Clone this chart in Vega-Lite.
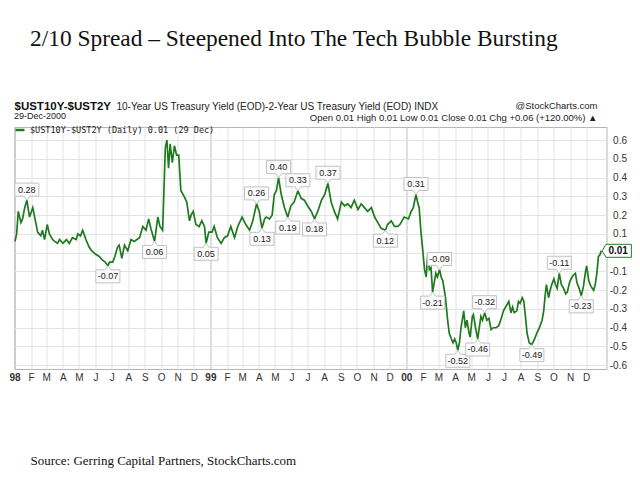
{
  "$schema": "https://vega.github.io/schema/vega-lite/v6.json",
  "width": 592,
  "height": 242,
  "autosize": {"type": "none"},
  "padding": {"left": 14.5, "top": 127, "right": 33.5, "bottom": 111},
  "background": "white",
  "title": {
    "text": "2/10 Spread – Steepened Into The Tech Bubble Bursting",
    "anchor": "start",
    "frame": "group",
    "dx": 15.5,
    "offset": 31,
    "font": "Liberation Serif",
    "fontSize": 23.4,
    "fontWeight": "normal",
    "color": "#111111",
    "baseline": "alphabetic"
  },
  "datasets": {
    "series": [
      {"date": "1998-01-02", "v": 0.06}, {"date": "1998-01-05", "v": 0.10}, {"date": "1998-01-08", "v": 0.22},
      {"date": "1998-01-13", "v": 0.16}, {"date": "1998-01-16", "v": 0.18}, {"date": "1998-01-20", "v": 0.24},
      {"date": "1998-01-24", "v": 0.28}, {"date": "1998-01-29", "v": 0.19}, {"date": "1998-02-04", "v": 0.24},
      {"date": "1998-02-09", "v": 0.17}, {"date": "1998-02-13", "v": 0.11}, {"date": "1998-02-19", "v": 0.09},
      {"date": "1998-02-22", "v": 0.12}, {"date": "1998-02-26", "v": 0.07}, {"date": "1998-03-03", "v": 0.15},
      {"date": "1998-03-07", "v": 0.10}, {"date": "1998-03-13", "v": 0.07}, {"date": "1998-03-17", "v": 0.06},
      {"date": "1998-03-22", "v": 0.05}, {"date": "1998-03-26", "v": 0.07}, {"date": "1998-04-01", "v": 0.05},
      {"date": "1998-04-08", "v": 0.07}, {"date": "1998-04-13", "v": 0.05}, {"date": "1998-04-19", "v": 0.08},
      {"date": "1998-04-26", "v": 0.07}, {"date": "1998-04-29", "v": 0.10}, {"date": "1998-05-04", "v": 0.09},
      {"date": "1998-05-08", "v": 0.12}, {"date": "1998-05-14", "v": 0.07}, {"date": "1998-05-20", "v": 0.03},
      {"date": "1998-05-25", "v": 0.01}, {"date": "1998-06-02", "v": -0.01}, {"date": "1998-06-08", "v": -0.02},
      {"date": "1998-06-14", "v": -0.04}, {"date": "1998-06-19", "v": -0.05}, {"date": "1998-06-24", "v": -0.07},
      {"date": "1998-06-27", "v": -0.05}, {"date": "1998-07-03", "v": -0.05}, {"date": "1998-07-07", "v": -0.02},
      {"date": "1998-07-12", "v": 0.03}, {"date": "1998-07-15", "v": 0.04}, {"date": "1998-07-20", "v": -0.03},
      {"date": "1998-07-25", "v": 0.04}, {"date": "1998-07-31", "v": 0.01}, {"date": "1998-08-06", "v": 0.07},
      {"date": "1998-08-12", "v": 0.06}, {"date": "1998-08-17", "v": 0.07}, {"date": "1998-08-22", "v": 0.08},
      {"date": "1998-08-28", "v": 0.14}, {"date": "1998-09-03", "v": 0.12}, {"date": "1998-09-08", "v": 0.18},
      {"date": "1998-09-12", "v": 0.13}, {"date": "1998-09-17", "v": 0.08}, {"date": "1998-09-19", "v": 0.06},
      {"date": "1998-09-25", "v": 0.19}, {"date": "1998-09-29", "v": 0.14}, {"date": "1998-10-04", "v": 0.12},
      {"date": "1998-10-09", "v": 0.56}, {"date": "1998-10-12", "v": 0.60}, {"date": "1998-10-15", "v": 0.45},
      {"date": "1998-10-18", "v": 0.58}, {"date": "1998-10-22", "v": 0.48}, {"date": "1998-10-26", "v": 0.57},
      {"date": "1998-10-30", "v": 0.52}, {"date": "1998-11-03", "v": 0.52}, {"date": "1998-11-07", "v": 0.33},
      {"date": "1998-11-13", "v": 0.30}, {"date": "1998-11-18", "v": 0.27}, {"date": "1998-11-23", "v": 0.17},
      {"date": "1998-11-26", "v": 0.20}, {"date": "1998-11-30", "v": 0.22}, {"date": "1998-12-05", "v": 0.15},
      {"date": "1998-12-11", "v": 0.14}, {"date": "1998-12-16", "v": 0.17}, {"date": "1998-12-21", "v": 0.14},
      {"date": "1998-12-24", "v": 0.05}, {"date": "1998-12-29", "v": 0.11}, {"date": "1999-01-04", "v": 0.11},
      {"date": "1999-01-08", "v": 0.14}, {"date": "1999-01-14", "v": 0.08}, {"date": "1999-01-21", "v": 0.05},
      {"date": "1999-01-27", "v": 0.08}, {"date": "1999-02-02", "v": 0.09}, {"date": "1999-02-08", "v": 0.14},
      {"date": "1999-02-15", "v": 0.08}, {"date": "1999-02-21", "v": 0.14}, {"date": "1999-03-01", "v": 0.19},
      {"date": "1999-03-08", "v": 0.15}, {"date": "1999-03-15", "v": 0.12}, {"date": "1999-03-21", "v": 0.17},
      {"date": "1999-03-28", "v": 0.26}, {"date": "1999-04-02", "v": 0.22}, {"date": "1999-04-07", "v": 0.13},
      {"date": "1999-04-12", "v": 0.18}, {"date": "1999-04-15", "v": 0.19}, {"date": "1999-04-21", "v": 0.18},
      {"date": "1999-04-26", "v": 0.20}, {"date": "1999-04-30", "v": 0.31}, {"date": "1999-05-04", "v": 0.33},
      {"date": "1999-05-08", "v": 0.40}, {"date": "1999-05-13", "v": 0.31}, {"date": "1999-05-19", "v": 0.24},
      {"date": "1999-05-25", "v": 0.19}, {"date": "1999-05-31", "v": 0.25}, {"date": "1999-06-06", "v": 0.27},
      {"date": "1999-06-13", "v": 0.33}, {"date": "1999-06-19", "v": 0.29}, {"date": "1999-06-25", "v": 0.28},
      {"date": "1999-07-01", "v": 0.25}, {"date": "1999-07-08", "v": 0.22}, {"date": "1999-07-14", "v": 0.18},
      {"date": "1999-07-20", "v": 0.22}, {"date": "1999-07-27", "v": 0.28}, {"date": "1999-08-02", "v": 0.31},
      {"date": "1999-08-08", "v": 0.37}, {"date": "1999-08-14", "v": 0.27}, {"date": "1999-08-20", "v": 0.22},
      {"date": "1999-08-26", "v": 0.18}, {"date": "1999-09-02", "v": 0.27}, {"date": "1999-09-08", "v": 0.25},
      {"date": "1999-09-14", "v": 0.26}, {"date": "1999-09-20", "v": 0.24}, {"date": "1999-09-26", "v": 0.28},
      {"date": "1999-10-03", "v": 0.23}, {"date": "1999-10-09", "v": 0.26}, {"date": "1999-10-15", "v": 0.24},
      {"date": "1999-10-21", "v": 0.22}, {"date": "1999-10-28", "v": 0.24}, {"date": "1999-11-03", "v": 0.19},
      {"date": "1999-11-09", "v": 0.16}, {"date": "1999-11-15", "v": 0.13}, {"date": "1999-11-23", "v": 0.12},
      {"date": "1999-11-27", "v": 0.15}, {"date": "1999-12-04", "v": 0.17}, {"date": "1999-12-10", "v": 0.14},
      {"date": "1999-12-16", "v": 0.14}, {"date": "1999-12-20", "v": 0.15}, {"date": "1999-12-24", "v": 0.17},
      {"date": "1999-12-28", "v": 0.19}, {"date": "2000-01-05", "v": 0.18}, {"date": "2000-01-10", "v": 0.22},
      {"date": "2000-01-14", "v": 0.24}, {"date": "2000-01-19", "v": 0.31}, {"date": "2000-01-22", "v": 0.27},
      {"date": "2000-01-25", "v": 0.24}, {"date": "2000-01-28", "v": 0.12}, {"date": "2000-02-01", "v": 0.00},
      {"date": "2000-02-04", "v": -0.09}, {"date": "2000-02-07", "v": -0.13}, {"date": "2000-02-10", "v": -0.01},
      {"date": "2000-02-13", "v": -0.09}, {"date": "2000-02-16", "v": -0.08}, {"date": "2000-02-19", "v": -0.21},
      {"date": "2000-02-22", "v": -0.16}, {"date": "2000-02-25", "v": -0.11}, {"date": "2000-02-28", "v": -0.13},
      {"date": "2000-03-03", "v": -0.09}, {"date": "2000-03-06", "v": -0.13}, {"date": "2000-03-09", "v": -0.15},
      {"date": "2000-03-14", "v": -0.24}, {"date": "2000-03-18", "v": -0.36}, {"date": "2000-03-21", "v": -0.43},
      {"date": "2000-03-25", "v": -0.46}, {"date": "2000-03-28", "v": -0.48}, {"date": "2000-03-31", "v": -0.46},
      {"date": "2000-04-03", "v": -0.48}, {"date": "2000-04-06", "v": -0.52}, {"date": "2000-04-09", "v": -0.48},
      {"date": "2000-04-12", "v": -0.40}, {"date": "2000-04-17", "v": -0.31}, {"date": "2000-04-20", "v": -0.40},
      {"date": "2000-04-23", "v": -0.36}, {"date": "2000-04-27", "v": -0.43}, {"date": "2000-04-29", "v": -0.45},
      {"date": "2000-05-03", "v": -0.34}, {"date": "2000-05-05", "v": -0.33}, {"date": "2000-05-09", "v": -0.40},
      {"date": "2000-05-13", "v": -0.46}, {"date": "2000-05-16", "v": -0.40}, {"date": "2000-05-19", "v": -0.34},
      {"date": "2000-05-22", "v": -0.36}, {"date": "2000-05-26", "v": -0.32}, {"date": "2000-05-30", "v": -0.36},
      {"date": "2000-06-03", "v": -0.35}, {"date": "2000-06-07", "v": -0.41}, {"date": "2000-06-11", "v": -0.40},
      {"date": "2000-06-16", "v": -0.40}, {"date": "2000-06-21", "v": -0.39}, {"date": "2000-06-26", "v": -0.35},
      {"date": "2000-06-30", "v": -0.31}, {"date": "2000-07-06", "v": -0.28}, {"date": "2000-07-10", "v": -0.26},
      {"date": "2000-07-14", "v": -0.32}, {"date": "2000-07-17", "v": -0.29}, {"date": "2000-07-20", "v": -0.32},
      {"date": "2000-07-25", "v": -0.31}, {"date": "2000-07-28", "v": -0.26}, {"date": "2000-07-31", "v": -0.27},
      {"date": "2000-08-04", "v": -0.24}, {"date": "2000-08-07", "v": -0.26}, {"date": "2000-08-10", "v": -0.34},
      {"date": "2000-08-13", "v": -0.43}, {"date": "2000-08-17", "v": -0.48}, {"date": "2000-08-22", "v": -0.49},
      {"date": "2000-08-27", "v": -0.46}, {"date": "2000-08-31", "v": -0.43}, {"date": "2000-09-05", "v": -0.40},
      {"date": "2000-09-10", "v": -0.36}, {"date": "2000-09-13", "v": -0.31}, {"date": "2000-09-16", "v": -0.22},
      {"date": "2000-09-18", "v": -0.17}, {"date": "2000-09-22", "v": -0.24}, {"date": "2000-09-25", "v": -0.20},
      {"date": "2000-09-28", "v": -0.17}, {"date": "2000-10-02", "v": -0.14}, {"date": "2000-10-05", "v": -0.17},
      {"date": "2000-10-08", "v": -0.19}, {"date": "2000-10-12", "v": -0.11}, {"date": "2000-10-16", "v": -0.17},
      {"date": "2000-10-20", "v": -0.19}, {"date": "2000-10-24", "v": -0.22}, {"date": "2000-10-27", "v": -0.21},
      {"date": "2000-10-31", "v": -0.16}, {"date": "2000-11-03", "v": -0.14}, {"date": "2000-11-07", "v": -0.12},
      {"date": "2000-11-11", "v": -0.11}, {"date": "2000-11-14", "v": -0.16}, {"date": "2000-11-18", "v": -0.19},
      {"date": "2000-11-22", "v": -0.23}, {"date": "2000-11-26", "v": -0.18}, {"date": "2000-11-30", "v": -0.10},
      {"date": "2000-12-02", "v": -0.07}, {"date": "2000-12-06", "v": -0.15}, {"date": "2000-12-10", "v": -0.18},
      {"date": "2000-12-15", "v": -0.20}, {"date": "2000-12-18", "v": -0.17}, {"date": "2000-12-21", "v": -0.11},
      {"date": "2000-12-24", "v": -0.02}, {"date": "2000-12-27", "v": -0.01}, {"date": "2000-12-29", "v": 0.01}
    ],
    "labels": [
      {"date": "1998-01-24", "v": 0.28, "label": "0.28", "pos": "above"},
      {"date": "1998-06-24", "v": -0.07, "label": "-0.07", "pos": "below"},
      {"date": "1998-09-19", "v": 0.06, "label": "0.06", "pos": "below"},
      {"date": "1998-12-24", "v": 0.05, "label": "0.05", "pos": "below"},
      {"date": "1999-03-28", "v": 0.26, "label": "0.26", "pos": "above"},
      {"date": "1999-04-07", "v": 0.13, "label": "0.13", "pos": "below"},
      {"date": "1999-05-08", "v": 0.40, "label": "0.40", "pos": "above"},
      {"date": "1999-05-25", "v": 0.19, "label": "0.19", "pos": "below"},
      {"date": "1999-06-13", "v": 0.33, "label": "0.33", "pos": "above"},
      {"date": "1999-07-14", "v": 0.18, "label": "0.18", "pos": "below"},
      {"date": "1999-08-08", "v": 0.37, "label": "0.37", "pos": "above"},
      {"date": "1999-11-23", "v": 0.12, "label": "0.12", "pos": "below"},
      {"date": "2000-01-19", "v": 0.31, "label": "0.31", "pos": "above"},
      {"date": "2000-03-03", "v": -0.09, "label": "-0.09", "pos": "above"},
      {"date": "2000-02-19", "v": -0.21, "label": "-0.21", "pos": "below"},
      {"date": "2000-04-06", "v": -0.52, "label": "-0.52", "pos": "below"},
      {"date": "2000-05-26", "v": -0.32, "label": "-0.32", "pos": "above"},
      {"date": "2000-05-13", "v": -0.46, "label": "-0.46", "pos": "below"},
      {"date": "2000-08-22", "v": -0.49, "label": "-0.49", "pos": "below"},
      {"date": "2000-10-12", "v": -0.11, "label": "-0.11", "pos": "above"},
      {"date": "2000-11-22", "v": -0.23, "label": "-0.23", "pos": "below"}
    ],
    "last": [
      {"date": "2000-12-29", "v": 0.01, "label": "0.01"}
    ]
  },
  "resolve": {"axis": {"x": "independent", "y": "independent"}},
  "layer": [
    {
      "data": {"name": "series"},
      "mark": {"type": "line", "strokeWidth": 1.7},
      "encoding": {
        "x": {
          "field": "date", "type": "temporal",
          "scale": {"domain": [{"year": 1998, "month": 1, "date": 1}, {"year": 2001, "month": 1, "date": 8}]},
          "axis": {
            "orient": "bottom",
            "tickCount": {"interval": "month", "step": 1},
            "labelExpr": "year(datum.value) > 2000 ? '' : (month(datum.value) == 0 ? timeFormat(datum.value, '%y') : slice(timeFormat(datum.value, '%b'), 0, 1))",
            "labelFontWeight": {"condition": {"test": "month(datum.value) == 0", "value": "bold"}, "value": "normal"},
            "labelFont": "Liberation Sans",
            "labelFontSize": 10,
            "labelColor": "#333333",
            "labelPadding": 3,
            "labelFlush": false,
            "labelOverlap": false,
            "ticks": false,
            "domain": false,
            "grid": true,
            "gridColor": {"condition": {"test": "month(datum.value) == 0", "value": "#bdbdbd"}, "value": "#e3e3e3"},
            "gridOpacity": {"condition": {"test": "year(datum.value) > 2000", "value": 0}, "value": 1},
            "title": "Source: Gerring Capital Partners, StockCharts.com",
            "titleFont": "Liberation Serif",
            "titleFontSize": 13,
            "titleFontWeight": "normal",
            "titleColor": "#111111",
            "titleAnchor": "start",
            "titleAlign": "left",
            "titleBaseline": "alphabetic",
            "titleX": 15.5,
            "titleY": 95
          }
        },
        "y": {
          "field": "v", "type": "quantitative",
          "scale": {"domain": [-0.62, 0.67], "nice": false, "zero": false},
          "axis": {
            "orient": "right",
            "values": [-0.6, -0.5, -0.4, -0.3, -0.2, -0.1, 0, 0.1, 0.2, 0.3, 0.4, 0.5, 0.6],
            "labelExpr": "datum.value == 0 ? '' : replace(format(datum.value, '.1f'), '−', '-')",
            "labelAlign": "right",
            "labelBaseline": "middle",
            "labelPadding": 20,
            "labelFont": "Liberation Sans",
            "labelFontSize": 10,
            "labelColor": "#333333",
            "ticks": false,
            "domain": false,
            "grid": true,
            "gridColor": "#e3e3e3",
            "title": ["@StockCharts.com", "Open 0.01 High 0.01 Low 0.01 Close 0.01 Chg +0.06 (+120.00%) ▲"],
            "titleAngle": 0,
            "titleAlign": "right",
            "titleBaseline": "alphabetic",
            "titleX": -9.5,
            "titleY": -19,
            "titleLineHeight": 12,
            "titleFont": "Liberation Sans",
            "titleFontSize": 9.5,
            "titleFontWeight": "normal",
            "titleColor": "#222222"
          }
        },
        "color": {
          "datum": "$UST10Y-$UST2Y (Daily) 0.01 (29 Dec)",
          "type": "nominal",
          "scale": {"range": ["#1f7a1f"]},
          "legend": {
            "orient": "none",
            "legendX": -0.5,
            "legendY": -15,
            "title": "29-Dec-2000",
            "titleFont": "Liberation Sans",
            "titleFontSize": 9,
            "titleFontWeight": "normal",
            "titleColor": "#222222",
            "titlePadding": 3,
            "labelFont": "DejaVu Sans Mono",
            "labelFontSize": 8.5,
            "labelColor": "#222222",
            "labelLimit": 400,
            "labelOffset": 4,
            "symbolType": "stroke",
            "symbolSize": 80,
            "symbolStrokeWidth": 2.5,
            "padding": 0
          }
        }
      }
    },
    {
      "data": {"name": "last"},
      "mark": {"type": "point", "shape": "M0,0 L0.6,-1 L4.5,-1 L4.5,1 L0.6,1 Z", "size": 169, "filled": true, "fill": "white", "stroke": "#2a7a2a", "strokeWidth": 1, "opacity": 1, "xOffset": 1},
      "encoding": {
        "x": {
          "field": "date", "type": "temporal",
          "scale": {"domain": [{"year": 1998, "month": 1, "date": 1}, {"year": 2001, "month": 1, "date": 8}]},
          "axis": {
            "orient": "top", "labels": false, "ticks": false, "domain": false, "grid": false,
            "title": "$UST10Y-$UST2Y",
            "titleFont": "Liberation Sans",
            "titleFontWeight": "bold",
            "titleFontSize": 11.5,
            "titleColor": "#111111",
            "titleAnchor": "start",
            "titleAlign": "left",
            "titleBaseline": "alphabetic",
            "titleX": -0.5,
            "titleY": -18
          }
        },
        "y": {
          "field": "v", "type": "quantitative",
          "scale": {"domain": [-0.62, 0.67], "nice": false, "zero": false},
          "axis": {
            "orient": "left", "labels": false, "ticks": false, "domain": false, "grid": false,
            "title": "10-Year US Treasury Yield (EOD)-2-Year US Treasury Yield (EOD)  INDX",
            "titleAngle": 0,
            "titleAlign": "left",
            "titleBaseline": "alphabetic",
            "titleX": 101.5,
            "titleY": -18,
            "titleFont": "Liberation Sans",
            "titleFontSize": 10,
            "titleFontWeight": "normal",
            "titleColor": "#222222"
          }
        }
      }
    },
    {
      "data": {"name": "last"},
      "mark": {"type": "text", "font": "Liberation Sans", "fontSize": 10, "fontWeight": "bold", "color": "#111111", "align": "center", "baseline": "middle", "xOffset": 17},
      "encoding": {
        "x": {"field": "date", "type": "temporal", "axis": null},
        "y": {"field": "v", "type": "quantitative", "axis": null},
        "text": {"field": "label"}
      }
    },
    {
      "data": {"name": "labels"},
      "transform": [{"filter": "datum.pos == 'above'"}],
      "mark": {"type": "point", "shape": "M0,0 L-0.46,-0.62 L-1.85,-0.62 L-1.85,-2.62 L1.85,-2.62 L1.85,-0.62 L0.46,-0.62 Z", "size": 169, "filled": true, "fill": "#fbfbfb", "stroke": "#c2c2c2", "strokeWidth": 1, "opacity": 1},
      "encoding": {
        "x": {"field": "date", "type": "temporal", "axis": null},
        "y": {"field": "v", "type": "quantitative", "axis": null}
      }
    },
    {
      "data": {"name": "labels"},
      "transform": [{"filter": "datum.pos == 'below'"}],
      "mark": {"type": "point", "shape": "M0,0 L-0.46,0.62 L-1.85,0.62 L-1.85,2.62 L1.85,2.62 L1.85,0.62 L0.46,0.62 Z", "size": 169, "filled": true, "fill": "#fbfbfb", "stroke": "#c2c2c2", "strokeWidth": 1, "opacity": 1},
      "encoding": {
        "x": {"field": "date", "type": "temporal", "axis": null},
        "y": {"field": "v", "type": "quantitative", "axis": null}
      }
    },
    {
      "data": {"name": "labels"},
      "transform": [{"filter": "datum.pos == 'above'"}],
      "mark": {"type": "text", "font": "Liberation Sans", "fontSize": 9, "color": "#222222", "align": "center", "baseline": "middle", "yOffset": -10.5},
      "encoding": {
        "x": {"field": "date", "type": "temporal", "axis": null},
        "y": {"field": "v", "type": "quantitative", "axis": null},
        "text": {"field": "label"}
      }
    },
    {
      "data": {"name": "labels"},
      "transform": [{"filter": "datum.pos == 'below'"}],
      "mark": {"type": "text", "font": "Liberation Sans", "fontSize": 9, "color": "#222222", "align": "center", "baseline": "middle", "yOffset": 10.5},
      "encoding": {
        "x": {"field": "date", "type": "temporal", "axis": null},
        "y": {"field": "v", "type": "quantitative", "axis": null},
        "text": {"field": "label"}
      }
    }
  ],
  "config": {
    "view": {"stroke": "#b5b5b5", "strokeWidth": 1}
  }
}
